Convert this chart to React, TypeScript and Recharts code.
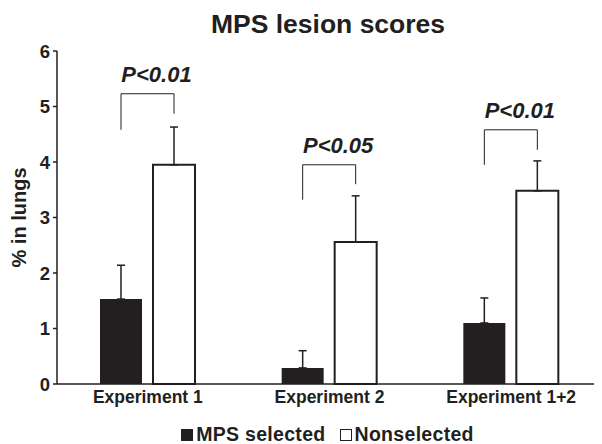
import { BarChart, Bar, XAxis, YAxis, ErrorBar, Legend, LabelList } from 'recharts';

const categories = ['Experiment 1', 'Experiment 2', 'Experiment 1+2'];
const selected = [1.53, 0.29, 1.1];
const selectedErr = [0.61, 0.31, 0.45];
const nonselected = [3.95, 2.56, 3.48];
const nonselectedErr = [0.68, 0.83, 0.54];

// significance brackets (values on the y scale)
const bracketTop = [5.23, 3.95, 4.58];
const bracketLeftLow = [4.58, 3.32, 3.95];
const bracketRightLow = [4.87, 3.6, 4.22];
const pLabels = ['P<0.01', 'P<0.05', 'P<0.01'];

const yTicks = [0, 1, 2, 3, 4, 5, 6];

const INK = '#231f20';
const FONT = '"Liberation Sans", Arial, Helvetica, sans-serif';
const BAR_SIZE = 42;
const BAR_GAP = 11;

const data = categories.map((name, i) => ({
  name,
  selected: selected[i],
  selectedErr: [0, selectedErr[i]],
  nonselected: nonselected[i],
  nonselectedErr: [0, nonselectedErr[i]],
}));

// draws the bracket using the white bar's geometry to get the y scale
function Bracket(props: any) {
  const vb = props.viewBox ?? props;
  const { x, y, width, height } = vb;
  const i = props.index;
  if (x == null || i == null) return null;
  const base = y + height;
  const k = height / nonselected[i];
  const py = (v: number) => base - v * k;
  const xr = x + width / 2;
  const xl = x - BAR_GAP - BAR_SIZE / 2;
  const top = py(bracketTop[i]);
  return (
    <g>
      <path
        d={`M${xl},${py(bracketLeftLow[i])} L${xl},${top} L${xr},${top} L${xr},${py(bracketRightLow[i])}`}
        fill="none"
        stroke={INK}
        strokeWidth={1}
      />
      <text
        x={(xl + xr) / 2 + 9}
        y={top - 12}
        textAnchor="middle"
        fontFamily={FONT}
        fontSize={22}
        fontWeight="bold"
        fontStyle="italic"
        fill={INK}
      >
        {pLabels[i]}
      </text>
    </g>
  );
}

function LegendBox() {
  const item = (filled: boolean, label: string, gapAfter: number) => (
    <span style={{ display: 'inline-flex', alignItems: 'baseline', marginRight: gapAfter }}>
      <span
        style={{
          display: 'inline-block',
          width: 12,
          height: 12,
          background: filled ? INK : '#fff',
          border: `1.5px solid ${INK}`,
          marginRight: 3,
          boxSizing: 'border-box',
        }}
      />
      {label}
    </span>
  );
  return (
    <div
      style={{
        height: 28,
        display: 'flex',
        justifyContent: 'center',
        alignItems: 'flex-end',
        paddingLeft: 45,
        fontFamily: FONT,
        fontSize: 19.5,
        letterSpacing: 0.3,
        fontWeight: 'bold',
        lineHeight: '19px',
        color: INK,
      }}
    >
      {item(true, 'MPS selected', 14)}
      {item(false, 'Nonselected', 0)}
    </div>
  );
}

export default function App() {
  return (
    <div style={{ position: 'relative', width: 594, height: 436, fontFamily: FONT }}>
      <div
        style={{
          position: 'absolute',
          top: 3,
          left: 0,
          width: 594,
          paddingLeft: 46,
          boxSizing: 'border-box',
          textAlign: 'center',
          fontSize: 26.5,
          lineHeight: '26px',
          fontWeight: 'bold',
          color: INK,
        }}
      >
        MPS lesion scores
      </div>
      <BarChart
        width={594}
        height={436}
        data={data}
        margin={{ top: 43, right: 0, left: 0, bottom: 0 }}
        barGap={BAR_GAP}
        barSize={BAR_SIZE}
      >
        <XAxis
          dataKey="name"
          height={32}
          tickLine={false}
          tickSize={6}
          tickMargin={1}
          axisLine={{ stroke: INK, strokeWidth: 1.5 }}
          tick={{ fill: INK, fontSize: 17.5, fontWeight: 'bold', fontFamily: FONT }}
        />
        <YAxis
          width={49}
          domain={[0, 6]}
          ticks={yTicks}
          tickSize={4}
          tickMargin={3}
          axisLine={{ stroke: INK, strokeWidth: 1.5 }}
          tickLine={{ stroke: INK, strokeWidth: 1.5 }}
          tick={{ fill: INK, fontSize: 18.5, fontWeight: 'bold', fontFamily: FONT }}
          label={{
            value: '% in lungs',
            angle: -90,
            position: 'insideLeft',
            offset: 11,
            style: { fill: INK, fontSize: 20, fontWeight: 'bold', fontFamily: FONT, textAnchor: 'middle' },
          }}
        />
        <Legend verticalAlign="bottom" content={() => <LegendBox />} />
        <Bar dataKey="selected" fill={INK} isAnimationActive={false}>
          <ErrorBar dataKey="selectedErr" width={4} stroke={INK} strokeWidth={1.5} direction="y" />
        </Bar>
        <Bar dataKey="nonselected" fill="#fff" stroke={INK} strokeWidth={2} isAnimationActive={false}>
          <ErrorBar dataKey="nonselectedErr" width={4} stroke={INK} strokeWidth={1.5} direction="y" />
          <LabelList dataKey="nonselected" content={(p: any) => <Bracket {...p} />} />
        </Bar>
      </BarChart>
    </div>
  );
}
